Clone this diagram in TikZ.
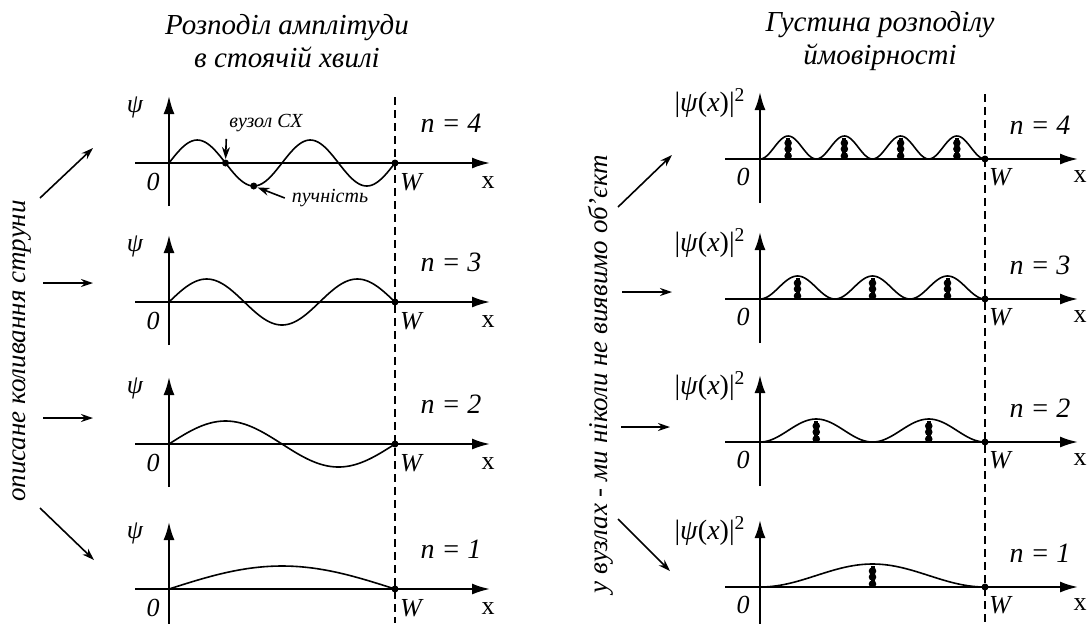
\documentclass[tikz,border=0pt]{standalone}
\usepackage{fontspec}
\setmainfont{Liberation Serif}
\usetikzlibrary{arrows.meta}

\begin{document}
\begin{tikzpicture}[x=0.5pt,y=-0.5pt,
    ax/.style={line width=1pt,-{Latex[length=9pt,width=5.5pt]}},
    wave/.style={line width=0.8pt},
    wall/.style={line width=0.9pt,dash pattern=on 4pt off 2.5pt},
    lbl/.style={font=\fontsize{13}{15}\selectfont\itshape},
    nlbl/.style={font=\fontsize{14}{16}\selectfont\itshape},
    psq/.style={font=\fontsize{14}{16}\selectfont},
    ttl/.style={font=\fontsize{14.5}{16.5}\selectfont\itshape,align=center},
    side/.style={font=\fontsize{13.5}{16}\selectfont\itshape,rotate=90},
    note/.style={font=\fontsize{10}{12}\selectfont\itshape},
    ptr/.style={line width=0.8pt,-{Stealth[length=6pt,width=4pt]}}]
  \useasboundingbox (0,0) rectangle (1091,623);

  % titles of both columns
  \node[ttl] (ttlL) at (287,41) {Розподіл амплітуди\\в стоячій хвилі};
  \node[ttl] (ttlR) at (880,41) {Густина розподілу\\ймовірності};

  % side captions
  \node[side] (sideL) at (22,351) {описане коливання струни};
  \node[side] (sideR) at (601,374) {у вузлах - ми ніколи не виявимо об’єкт};

  % walls at x = W
  \draw[wall] (395,97) -- (395,623);
  \draw[wall] (985,94) -- (985,623);

  \foreach \n/\yl/\yr in {4/163/159,3/302/299,2/444/442,1/589/587}{
    % amplitude
    \draw[ax] (135,\yl) -- (490,\yl);
    \draw[ax] (169,\yl+43) -- (169,\yl-67);
    \draw[wave] plot[domain=0:226,samples=120,smooth]
      ({169+\x},{\yl-23*sin(\x/226*\n*180)});
    \fill (395,\yl) circle[radius=3.5];
    \node[lbl] (psiL\n) at (135,\yl-56) {ψ};
    \node[lbl] (zeroL\n) at (153,\yl+19) {0};
    \node[lbl] (wL\n) at (411,\yl+19) {W};
    \node[lbl] (xL\n) at (488,\yl+20) {\upshape x};
    \node[nlbl] (nL\n) at (451,\yl-40) {n = \n};
    % probability density
    \draw[ax] (725,\yr) -- (1078,\yr);
    \draw[ax] (760,\yr+44) -- (760,\yr-67);
    \draw[wave] plot[domain=0:225,samples=160,smooth]
      ({760+\x},{\yr-23*pow(sin(\x/225*\n*180),2)});
    \foreach \k in {1,...,\n}{
      \pgfmathsetmacro{\xp}{760+(2*\k-1)*225/(2*\n)}
      \draw[line width=2pt] (\xp,\yr) -- (\xp,\yr-21);
      \foreach \h in {3,10,16}
        \fill (\xp,\yr-\h) circle[radius=3.8];
    }
    \fill (985,\yr) circle[radius=3.5];
    \node[psq] (psqR\n) at (710,\yr-56) {|\textit{ψ}(\textit{x})|\textsuperscript{2}};
    \node[lbl] (zeroR\n) at (743,\yr+18) {0};
    \node[lbl] (wR\n) at (1000,\yr+18) {W};
    \node[lbl] (xR\n) at (1080,\yr+18) {\upshape x};
    \node[nlbl] (nR\n) at (1040,\yr-34) {n = \n};
  }

  % node and antinode for n = 4
  \coordinate (uzolPt) at (225.5,163);
  \coordinate (puchPt) at (253.75,186);
  \fill (uzolPt) circle[radius=3.5];
  \fill (puchPt) circle[radius=3.5];
  \node[note] (uzol) at (266,123) {вузол СХ};
  \node[note] (puch) at (330,198) {пучність};
  \draw[ptr,shorten >=2pt] ([xshift=2pt]uzol.south west) -- (uzolPt);
  \draw[ptr,shorten >=2pt] (puch.west) -- (puchPt);

  % arrows from the side captions
  \foreach \k/\xa/\ya/\xb/\yb in {4/40/198/93/148,3/43/283/93/283,2/43/418/93/418,1/40/508/94/560}{
    \coordinate (sL\k) at (\xa,\ya);
    \coordinate (eL\k) at (\xb,\yb);
    \draw[ptr] (sL\k) -- (eL\k);
  }
  \foreach \k/\xa/\ya/\xb/\yb in {4/618/207/672/155,3/622/292/672/292,2/621/427/670/427,1/618/519/670/571}{
    \coordinate (sR\k) at (\xa,\ya);
    \coordinate (eR\k) at (\xb,\yb);
    \draw[ptr] (sR\k) -- (eR\k);
  }
\end{tikzpicture}
\end{document}
